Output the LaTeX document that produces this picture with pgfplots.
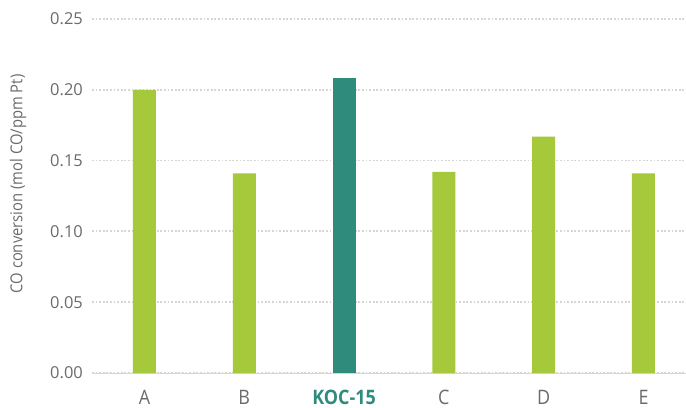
\documentclass[border=0pt]{standalone}
\usepackage{fontspec}
\setmainfont{Open Sans}[FakeStretch=0.9]
\newfontfamily\tickfont{Open Sans}
\usepackage{pgfplots}
\pgfplotsset{compat=1.18}
\definecolor{barGreen}{HTML}{A5C93A}
\definecolor{barTeal}{HTML}{2F8B7C}
\definecolor{txtGray}{HTML}{6B6B6B}
\definecolor{gridGray}{HTML}{D6D6D6}
\begin{document}
\begin{tikzpicture}
\useasboundingbox (0,0) rectangle (686bp,408bp);
\begin{axis}[
  at={(92bp,35bp)}, anchor=south west,
  scale only axis,
  width=595bp, height=354bp,
  ybar, bar width=23bp, bar shift=0pt,
  xmin=-0.526, xmax=5.436,
  ymin=0, ymax=0.25,
  ytick={0,0.05,...,0.25},
  xtick={0,...,5},
  xticklabels={A,B,\textbf{\color{barTeal}KOC-15},C,D,E},
  axis x line*=bottom, axis y line*=left,
  x axis line style={gridGray, line width=1pt, -},
  y axis line style={draw=none},
  ymajorgrids, grid style={gridGray, line width=1.8bp, dash pattern=on 1.8bp off 1.8bp},
  major tick length=0pt,
  ticklabel style={text=txtGray, inner sep=0pt},
  yticklabel style={font=\tickfont\fontsize{16.5}{19}\selectfont, anchor=east, xshift=-9bp,
    /pgf/number format/fixed, /pgf/number format/fixed zerofill, /pgf/number format/precision=2},
  /pgf/number format/assume math mode=true,
  xticklabel style={font=\fontsize{20}{24}\selectfont, anchor=north, yshift=-17bp},
  ylabel={CO conversion (mol CO/ppm Pt)},
  ylabel style={font=\fontsize{16.5}{19}\selectfont, text=txtGray, at={(axis description cs:0,0.5)}, anchor=center, yshift=74bp, xshift=12bp, inner sep=0pt},
  clip=false,
]
\addplot[fill=barGreen, draw=none] coordinates {(0,0.200) (1,0.141) (3,0.142) (4,0.167) (5,0.141)};
\addplot[fill=barTeal, draw=none] coordinates {(2,0.208)};
\end{axis}
\end{tikzpicture}
\end{document}
